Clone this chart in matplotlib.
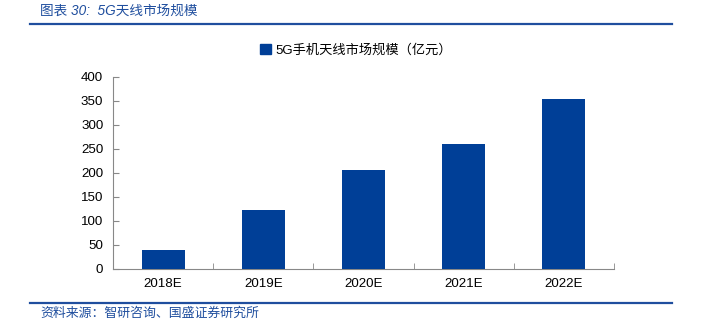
import matplotlib
matplotlib.use("Agg")
import matplotlib.pyplot as plt
from matplotlib.patches import Rectangle

plt.rcParams['font.family'] = ['Liberation Sans', 'Noto Sans CJK SC']

categories = ["2018E", "2019E", "2020E", "2021E", "2022E"]
values = [39, 123, 206, 260, 354]
series_name = "5G手机天线市场规模（亿元）"
title_text = "图表 30:  5G天线市场规模"
source_text = "资料来源：智研咨询、国盛证券研究所"
yticks = [0, 50, 100, 150, 200, 250, 300, 350, 400]

W, H = 701, 327
fig = plt.figure(figsize=(W / 100, H / 100), dpi=100)

bar_color = "#003F97"
blue = "#1F4E9E"

# axes: x from 113 to 614, y from 76.7 (400) to 268.7 (0)
ax = fig.add_axes([113 / W, 1 - 268.7 / H, (614 - 113) / W, (268.7 - 76.7) / H])
x = list(range(len(categories)))
ax.bar(x, values, width=0.43, color=bar_color, zorder=3)
ax.set_xlim(-0.5, len(categories) - 0.5)
ax.set_ylim(0, 400)
ax.set_yticks(yticks)
ax.set_yticklabels([str(t) for t in yticks], fontsize=9.6)
ax.set_xticks(x)
ax.set_xticklabels(categories, fontsize=9.6)
ax.set_xticks([i + 0.5 for i in range(-1, len(categories))], minor=True)
ax.tick_params(axis='x', which='major', length=0, pad=7)
ax.tick_params(axis='x', which='minor', direction='in', length=4, color='#888888')
ax.tick_params(axis='y', direction='in', length=4, color='#888888', pad=7)
for s in ['top', 'right']:
    ax.spines[s].set_visible(False)
for s in ['left', 'bottom']:
    ax.spines[s].set_color('#888888')
    ax.spines[s].set_linewidth(0.8)

# legend
leg = ax.legend([Rectangle((0, 0), 1, 1, color=bar_color)], [series_name],
                loc='center', bbox_to_anchor=(356 / W, 1 - 50 / H),
                bbox_transform=fig.transFigure, frameon=False,
                prop={'family': ['Liberation Sans', 'Noto Sans CJK SC'], 'size': 9.5},
                handlelength=0.8, handleheight=0.8, handletextpad=0.3)

# title and lines
fig.text(40 / W, 1 - 11 / H, title_text, fontsize=9.8, color=blue, style='italic',
         va='center', ha='left', family=['Liberation Sans', 'Noto Sans CJK SC'])
fig.add_artist(plt.Line2D([30 / W, 672 / W], [1 - 24 / H, 1 - 24 / H],
                          color=blue, linewidth=1.6, transform=fig.transFigure))
fig.add_artist(plt.Line2D([30 / W, 672 / W], [1 - 303 / H, 1 - 303 / H],
                          color=blue, linewidth=1.6, transform=fig.transFigure))
fig.text(40 / W, 1 - 313 / H, source_text, fontsize=9.3, color=blue, style='italic',
         va='center', ha='left', family=['Noto Sans CJK SC', 'Liberation Sans'])

fig.savefig("out.png", dpi=100)
